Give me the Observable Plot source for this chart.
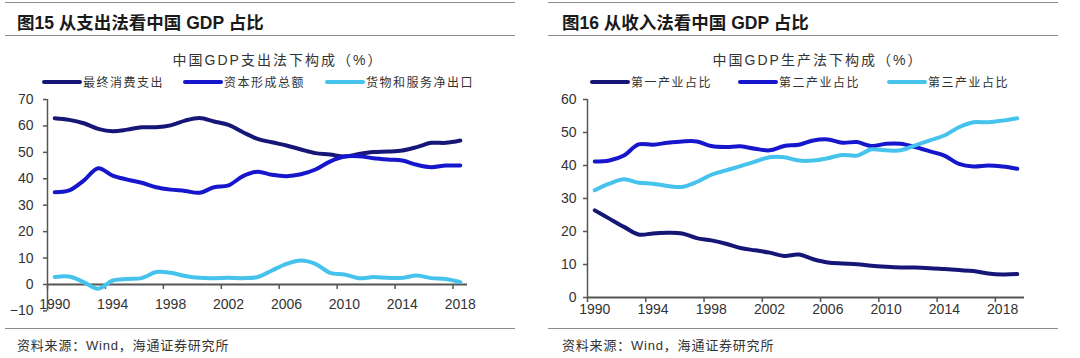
<!DOCTYPE html>
<html><head><meta charset="utf-8">
<script src="https://cdn.jsdelivr.net/npm/d3@7"></script>
<script src="https://cdn.jsdelivr.net/npm/@observablehq/plot@0.6"></script>
<style>
body{margin:0;background:#fff;}
#wrap{position:relative;width:1080px;height:358px;overflow:hidden;background:#fff;font-family:"Liberation Sans",Arial,"Noto Sans CJK SC",sans-serif;color:#222;}
.abs{position:absolute;white-space:nowrap;}
.rule{position:absolute;height:0;border-top:1.5px solid #8c8c8c;}
.title{font-weight:bold;font-size:17.5px;color:#1a1a1a;font-family:"Liberation Sans",Arial,"Noto Sans CJK SC",sans-serif;}
.sub{font-size:14px;letter-spacing:2px;font-family:"Liberation Sans","Noto Sans CJK SC",sans-serif;color:#333;transform:translateX(-50%);}
.leg{font-size:12px;letter-spacing:1.5px;font-family:"Noto Sans CJK SC",sans-serif;color:#333;line-height:14px;}
.sw{position:absolute;height:4px;width:40px;border-radius:2px;}
.foot{font-size:13px;letter-spacing:0.8px;color:#333;font-family:"Liberation Sans","Noto Sans CJK SC",sans-serif;}
.chart{position:absolute;top:90px;}
</style>
</head><body>
<div id="wrap">
  <div class="rule" style="left:5px;width:510px;top:2px"></div>
  <div class="rule" style="left:548px;width:510px;top:2px"></div>
  <div class="abs title" style="left:17px;top:9px">图15 从支出法看中国 GDP 占比</div>
  <div class="abs title" style="left:562px;top:9px">图16 从收入法看中国 GDP 占比</div>
  <div class="rule" style="left:5px;width:510px;top:35px"></div>
  <div class="rule" style="left:548px;width:510px;top:35px"></div>
  <div class="abs sub" style="left:278px;top:49px">中国GDP支出法下构成（%）</div>
  <div class="abs sub" style="left:818px;top:49px">中国GDP生产法下构成（%）</div>
  <div id="legA"></div>
  <div id="legB"></div>
  <div id="chartA" class="chart" style="left:0px"></div>
  <div id="chartB" class="chart" style="left:540px"></div>
  <div class="rule" style="left:5px;width:510px;top:328px"></div>
  <div class="rule" style="left:548px;width:510px;top:328px"></div>
  <div class="abs foot" style="left:17px;top:335px">资料来源：Wind，海通证券研究所</div>
  <div class="abs foot" style="left:562px;top:335px">资料来源：Wind，海通证券研究所</div>
</div>
<script>
// ---------- Data: left chart (expenditure approach) ----------
const yearsA = [1990,1991,1992,1993,1994,1995,1996,1997,1998,1999,2000,2001,2002,2003,2004,2005,2006,2007,2008,2009,2010,2011,2012,2013,2014,2015,2016,2017,2018];
const namesA = ["最终消费支出","资本形成总额","货物和服务净出口"];
const consumption = [62.9,62.3,61.0,58.9,58.0,58.6,59.5,59.5,60.2,62.0,63.0,61.7,60.4,57.6,55.1,53.8,52.6,51.1,49.7,49.2,48.4,49.4,50.1,50.3,50.7,52.0,53.6,53.6,54.5];
const capital = [34.9,35.6,39.3,44.0,41.2,39.7,38.5,36.8,35.9,35.4,34.7,36.8,37.5,41.0,42.7,41.5,41.0,41.7,43.5,46.5,48.4,48.5,47.8,47.3,46.9,45.3,44.4,45.0,45.0];
const netExports = [2.8,3.0,0.9,-1.6,1.5,2.1,2.4,4.7,4.4,3.2,2.5,2.4,2.5,2.4,2.8,5.3,7.8,9.1,7.8,4.4,3.8,2.4,2.8,2.5,2.5,3.4,2.4,2.1,0.9];
const yTicksA = [-10,0,10,20,30,40,50,60,70];

// ---------- Data: right chart (production approach) ----------
const yearsB = [1990,1991,1992,1993,1994,1995,1996,1997,1998,1999,2000,2001,2002,2003,2004,2005,2006,2007,2008,2009,2010,2011,2012,2013,2014,2015,2016,2017,2018,2019];
const namesB = ["第一产业占比","第二产业占比","第三产业占比"];
const primary = [26.4,23.9,21.4,19.1,19.4,19.6,19.4,18.0,17.3,16.3,15.0,14.3,13.6,12.6,13.0,11.6,10.6,10.3,10.1,9.6,9.3,9.1,9.1,8.9,8.6,8.3,8.0,7.3,7.0,7.1];
const secondary = [41.2,41.5,43.0,46.4,46.3,46.9,47.3,47.3,45.9,45.6,45.8,45.1,44.6,45.9,46.3,47.6,47.9,46.9,47.1,45.9,46.6,46.6,45.6,44.3,43.0,40.5,39.7,40.0,39.7,39.0];
const tertiary = [32.5,34.5,35.8,34.8,34.5,33.8,33.5,35.0,37.2,38.5,39.8,41.2,42.5,42.5,41.5,41.5,42.2,43.2,43.0,44.9,44.6,44.6,46.1,47.6,49.1,51.6,53.1,53.1,53.6,54.3];
const yTicksB = [0,10,20,30,40,50,60];

const xLabelYears = [1990,1994,1998,2002,2006,2010,2014,2018];
const colors = ["#161677","#1616CC","#45C3EC"];

function tidy(years, names, seriesList) {
  const rows = [];
  seriesList.forEach((vals, s) => vals.forEach((v, i) => rows.push({year: years[i], value: v, series: names[s]})));
  return rows;
}

function chart({years, names, seriesList, yDomain, yTicks, width, marginTop, marginBottom, height, marginRight, tickPadding, labelDy}) {
  const x0 = years[0] - 0.5, x1 = years[years.length - 1] + 0.5;
  const boundaries = xLabelYears.map(y => y - 0.5);
  const axisColor = "#555";
  return Plot.plot({
    width, height, marginLeft: 47, marginRight, marginTop, marginBottom,
    x: {domain: [x0, x1]},
    y: {domain: yDomain},
    color: {domain: names, range: colors},
    style: {fontFamily: "'Liberation Sans', Arial, sans-serif", fontSize: "14px", color: "#333", background: "transparent"},
    marks: [
      Plot.axisY({ticks: yTicks, tickSize: 4, tickPadding, stroke: axisColor, strokeWidth: 1.5, fontSize: 14, label: null}),
      Plot.axisX({ticks: xLabelYears, tickSize: 0, tickPadding: 0, dy: labelDy, fontSize: 14, tickFormat: d => String(d), label: null}),
      Plot.ruleX([x0], {stroke: axisColor, strokeWidth: 1.5}),
      Plot.ruleY([0], {stroke: axisColor, strokeWidth: 1.8}),
      Plot.ruleX(boundaries, {y1: 0, y2: 0, insetBottom: -5, stroke: axisColor, strokeWidth: 1.5}),
      Plot.line(tidy(years, names, seriesList), {x: "year", y: "value", stroke: "series", curve: "catmull-rom", strokeWidth: 4, strokeLinecap: "round", strokeLinejoin: "round"})
    ]
  });
}

document.getElementById("chartA").append(chart({
  years: yearsA, names: namesA, seriesList: [consumption, capital, netExports],
  yDomain: [-10, 70], yTicks: yTicksA, width: 530, height: 230, marginTop: 9, marginBottom: 9.6, marginRight: 63, tickPadding: 10, labelDy: -12
}));
document.getElementById("chartB").append(chart({
  years: yearsB, names: namesB, seriesList: [primary, secondary, tertiary],
  yDomain: [0, 60], yTicks: yTicksB, width: 530, height: 230, marginTop: 9, marginBottom: 23, marginRight: 46, tickPadding: 7, labelDy: 7
}));

function legend(id, names, offsets) {
  const el = document.getElementById(id);
  names.forEach((n, i) => {
    const sw = document.createElement("div");
    sw.className = "sw"; sw.style.left = offsets[i] + "px"; sw.style.top = "80px"; sw.style.background = colors[i];
    el.append(sw);
    const t = document.createElement("div");
    t.className = "abs leg"; t.style.left = (offsets[i] + 41) + "px"; t.style.top = "75px"; t.textContent = n;
    el.append(t);
  });
}
legend("legA", namesA, [42, 183, 325]);
legend("legB", namesB, [590, 738, 887]);
</script>
</body></html>
